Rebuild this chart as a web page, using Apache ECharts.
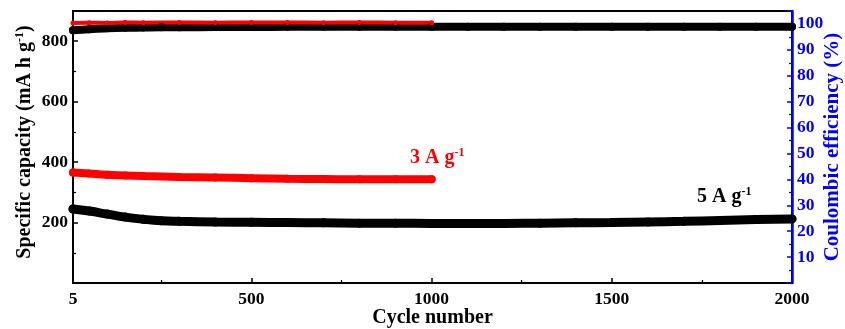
<!DOCTYPE html>
<html>
<head>
<meta charset="utf-8">
<script src="https://cdn.jsdelivr.net/npm/echarts@6/dist/echarts.min.js"></script>
<style>
  html, body { margin: 0; padding: 0; background: #fff; }
  #chart { width: 845px; height: 329px; }
</style>
</head>
<body>
<div id="chart"></div>
<script>
// cycle numbers
var cycles5A = [5, 50, 100, 150, 200, 250, 300, 400, 500, 600, 700, 800, 900, 1000, 1100, 1200, 1300, 1400, 1500, 1600, 1700, 1800, 1900, 2000];
var capacity5A = [245, 238, 228, 218, 211, 206, 204, 202, 201, 200, 199, 198, 198, 197, 197, 197, 198, 199, 200, 202, 204, 207, 210, 212];
var ce5A = [97.6, 98.0, 98.3, 98.5, 98.6, 98.7, 98.7, 98.8, 98.8, 98.9, 98.9, 98.9, 98.9, 98.9, 98.9, 98.9, 98.9, 98.9, 98.9, 98.9, 98.9, 98.9, 98.9, 98.9];

var cycles3A = [5, 50, 100, 150, 200, 300, 400, 500, 600, 700, 800, 900, 1000];
var capacity3A = [366, 362, 358, 356, 354, 351, 349, 347, 345, 344, 343, 343, 343];
var ce3A = [100.4, 100.5, 100.4, 100.6, 100.5, 100.6, 100.5, 100.6, 100.6, 100.5, 100.6, 100.5, 100.5];

var xLabels = [5, 500, 1000, 1500, 2000];
var xMajorTicks = [500, 1000, 1500];
var xMinorTicks = [250, 750, 1250, 1750];

function pairs(xs, ys) {
  return xs.map(function (x, i) { return [x, ys[i]]; });
}

var font = 'Liberation Serif';
var chart = echarts.init(document.getElementById('chart'));

var option = {
  backgroundColor: '#fff',
  animation: false,
  grid: {
    left: 73, right: 53, top: 11, bottom: 46,
    outerBoundsMode: 'none',
    show: true, borderColor: '#000', borderWidth: 2, backgroundColor: 'transparent'
  },
  xAxis: [
    {
      type: 'value', min: 5, max: 2000,
      name: 'Cycle number', nameLocation: 'middle', nameGap: 25, nameMoveOverlap: false,
      nameTextStyle: { fontFamily: font, fontWeight: 'bold', fontSize: 20, color: '#000' },
      axisLine: { lineStyle: { color: '#000', width: 2 } },
      axisTick: { inside: true, length: 5, lineStyle: { color: '#000', width: 1.5 }, customValues: xMajorTicks },
      axisLabel: {
        fontFamily: font, fontWeight: 'bold', fontSize: 17.5, color: '#000', margin: 7,
        customValues: xLabels,
        formatter: function (v) { return String(v); }
      },
      splitLine: { show: false }
    },
    {
      type: 'value', min: 5, max: 2000, position: 'bottom',
      axisLine: { show: false },
      axisTick: { inside: true, length: 3, lineStyle: { color: '#000', width: 1.2 }, customValues: xMinorTicks },
      axisLabel: { show: false },
      splitLine: { show: false }
    }
  ],
  yAxis: [
    {
      type: 'value', min: 0, max: 900, interval: 200,
      name: '{a|Specific capacity (mA h g}{s|-1}{a|)}',
      nameLocation: 'middle', nameGap: 37, nameMoveOverlap: false,
      nameTextStyle: {
        padding: [0, 0, 0, 10],
        rich: {
          a: { fontFamily: font, fontWeight: 'bold', fontSize: 20, color: '#000' },
          s: { fontFamily: font, fontWeight: 'bold', fontSize: 12, color: '#000', padding: [0, 0, 10, 0] }
        }
      },
      axisLine: { show: true, lineStyle: { color: '#000', width: 2 } },
      axisTick: { inside: true, length: 5, lineStyle: { color: '#000', width: 1.5 } },
      minorTick: { show: true, splitNumber: 2, length: 3, lineStyle: { color: '#000', width: 1.2 } },
      axisLabel: { fontFamily: font, fontWeight: 'bold', fontSize: 17.5, color: '#000', showMinLabel: false, showMaxLabel: false, margin: 5 },
      splitLine: { show: false }
    },
    {
      type: 'value', min: 0, max: 105, interval: 10, position: 'right',
      name: 'Coulombic efficiency (%)',
      nameLocation: 'middle', nameGap: 30, nameMoveOverlap: false,
      nameTextStyle: { fontFamily: font, fontWeight: 'bold', fontSize: 21, color: '#0000ff' },
      axisLine: { show: true, lineStyle: { color: '#0000ff', width: 2.5 } },
      axisTick: { inside: true, length: 5, lineStyle: { color: '#0000ff', width: 1.5 } },
      minorTick: { show: true, splitNumber: 2, length: 3, lineStyle: { color: '#0000ff', width: 1.2 } },
      axisLabel: { fontFamily: font, fontWeight: 'bold', fontSize: 17.5, color: '#0000ff', showMinLabel: false, showMaxLabel: false, margin: 5 },
      splitLine: { show: false }
    }
  ],
  graphic: [
    {
      type: 'text', left: 410, top: 147,
      style: {
        text: '{a|3 A g}{s|-1}',
        rich: {
          a: { fontFamily: font, fontWeight: 'bold', fontSize: 20, fill: '#ff0000' },
          s: { fontFamily: font, fontWeight: 'bold', fontSize: 12, fill: '#ff0000', padding: [0, 0, 10, 0] }
        }
      }
    },
    {
      type: 'text', left: 697, top: 186,
      style: {
        text: '{a|5 A g}{s|-1}',
        rich: {
          a: { fontFamily: font, fontWeight: 'bold', fontSize: 20, fill: '#000' },
          s: { fontFamily: font, fontWeight: 'bold', fontSize: 12, fill: '#000', padding: [0, 0, 10, 0] }
        }
      }
    }
  ],
  series: [
    {
      name: 'capacity 5A', type: 'line', yAxisIndex: 0, data: pairs(cycles5A, capacity5A),
      smooth: true, symbol: 'circle', symbolSize: 9, showSymbol: true,
      itemStyle: { color: '#000' }, lineStyle: { color: '#000', width: 9, cap: 'round' }
    },
    {
      name: 'CE 5A', type: 'line', yAxisIndex: 1, data: pairs(cycles5A, ce5A),
      smooth: true, symbol: 'circle', symbolSize: 8, showSymbol: true,
      itemStyle: { color: '#000' }, lineStyle: { color: '#000', width: 8, cap: 'round' }
    },
    {
      name: 'CE 3A', type: 'line', yAxisIndex: 1, data: pairs(cycles3A, ce3A),
      smooth: true, symbol: 'circle', symbolSize: 5, showSymbol: true,
      itemStyle: { color: '#ff0000' }, lineStyle: { color: '#ff0000', width: 4, cap: 'round' }
    },
    {
      name: 'capacity 3A', type: 'line', yAxisIndex: 0, data: pairs(cycles3A, capacity3A),
      smooth: true, symbol: 'circle', symbolSize: 8, showSymbol: true,
      itemStyle: { color: '#ff0000' }, lineStyle: { color: '#ff0000', width: 8, cap: 'round' }
    }
  ]
};

chart.setOption(option);
</script>
</body>
</html>
